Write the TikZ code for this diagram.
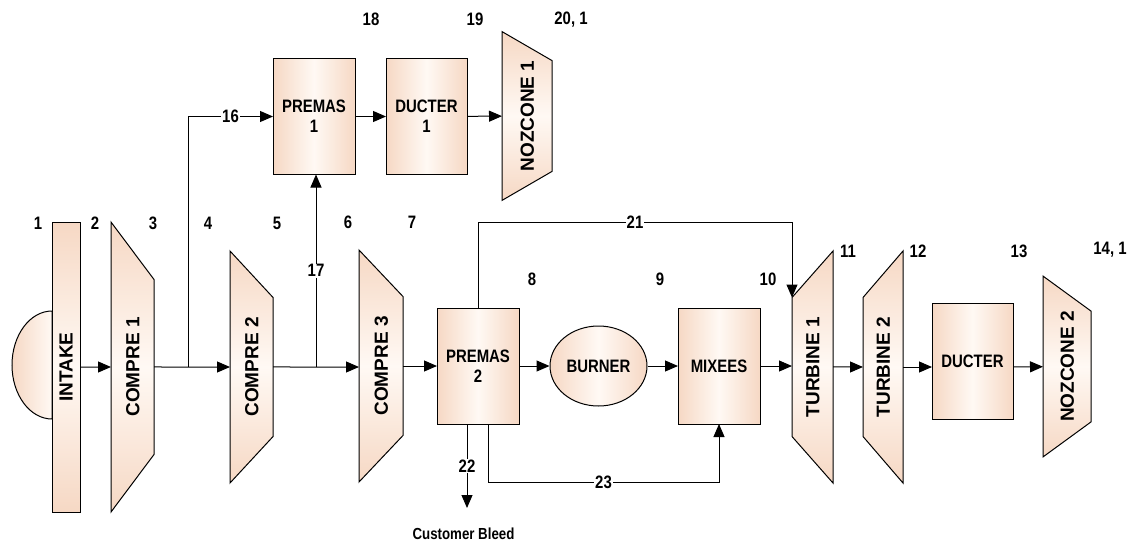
\documentclass[tikz,border=0pt]{standalone}
\usepackage{fontspec}
\setmainfont{Liberation Sans}
\newfontfamily\narrowsans[FakeStretch=0.83]{Liberation Sans}
\usepackage{xcolor}
\usetikzlibrary{arrows.meta, positioning, shapes.geometric, calc}

\definecolor{peach}{RGB}{246,216,196}
\definecolor{peachlight}{RGB}{255,249,244}
\newcommand{\labfont}{\narrowsans\bfseries\fontsize{18}{20}\selectfont}
\newcommand{\bleedfont}{\narrowsans\bfseries\fontsize{16}{18}\selectfont}
\newcommand{\unitfont}{\bfseries\fontsize{19}{21}\selectfont}

\begin{document}
\begin{tikzpicture}[x=1pt, y=-1pt, line width=1pt,
    block/.style={rectangle, draw, left color=peach, right color=peach, middle color=peachlight, inner sep=0pt, outer sep=0pt, minimum width=82pt, minimum height=116pt, align=center, font=\labfont},
    machine/.style={trapezium, trapezium stretches body=true, draw, rotate=90, top color=peach, bottom color=peach, middle color=peachlight, text height=13.6pt, text depth=0pt, inner xsep=0pt, inner ysep=#1, outer sep=0pt, font=\unitfont},
    flow/.style={-{Triangle[length=13pt, width=11pt]}},
    num/.style={font=\labfont},
    tag/.style={font=\labfont, fill=white, inner sep=1pt}]
    \useasboundingbox (0,0) rectangle (1132,544);

    % bypass branch
    \node[block] (premas1) at (314,116.5) {PREMAS\\1};
    \node[block, minimum width=81pt, right=31pt of premas1] (ducter1) {DUCTER\\1};
    \node[machine=18.2pt, minimum width=166pt, trapezium angle=120.1] (nozcone1) at (527,116) {NOZCONE 1};

    % core line
    \draw[left color=peach, right color=peachlight] (52,311) arc[start angle=90, end angle=270, x radius=40pt, y radius=54pt] -- cycle;
    \node[draw, rotate=90, minimum width=290pt, minimum height=28pt, inner sep=0pt, outer sep=0pt, top color=peach, bottom color=peach, middle color=peachlight, font=\unitfont] (intake) at (66,367) {INTAKE};
    \node[machine=14.7pt, minimum width=290pt, trapezium angle=143.2] (compre1) at (132.5,367) {COMPRE 1};
    \node[machine=14.7pt, minimum width=232pt, trapezium angle=137.2] (compre2) at (251.5,367) {COMPRE 2};
    \node[machine=15.2pt, minimum width=232pt, trapezium angle=136.6] (compre3) at (381,366) {COMPRE 3};
    \node[block] (premas2) at (478,366) {PREMAS\\2};
    \node[ellipse, draw, minimum width=97pt, minimum height=80pt, inner sep=0pt, left color=peach, right color=peach, middle color=peachlight, font=\labfont] (burner) at (598.5,366) {BURNER};
    \node[block] (mixees) at (719,366) {MIXEES};
    \node[machine=13.7pt, minimum width=232pt, trapezium angle=41.4] (turbine1) at (812.5,367) {TURBINE 1};
    \node[machine=13.2pt, minimum width=232pt, trapezium angle=40.7] (turbine2) at (883,367) {TURBINE 2};
    \node[block, minimum width=81pt] (ducter) at (972.5,361) {DUCTER};
    \node[machine=17.2pt, minimum width=173pt, trapezium angle=126.1] (nozcone2) at (1067,366.5) {NOZCONE 2};
    \node[font=\bleedfont, inner sep=0pt] (bleed) at (463.5,534) {Customer Bleed};

    \coordinate (split1) at (188,367);
    \coordinate (split2) at (316,367);
    \coordinate (bleedtip) at (467,508);

    % station numbers
    \foreach [count=\i] \t/\x/\y in {1/38/223, 2/95/223, 3/153/223, 4/208/223, 5/277/223, 6/348/222, 7/412/222, 8/532/279, 9/660/279, 10/768/279, 11/848/251, 12/918/251, 13/1019/251, {14, 1}/1110/250, 18/371/19, 19/475/19, {20, 1}/571/20}
        \node[num] (station\i) at (\x,\y) {\t};

    \draw[flow] (intake) -- (compre1);
    \draw[flow] (compre1) -- (compre2);
    \draw[flow] (split1) |- node[tag, pos=0.75] {16} (premas1);
    \draw[flow] (compre2) -- (compre2 -| compre3.north);
    \draw[flow] (split2) -- node[tag] {17} (split2 |- premas1.south);
    \draw[flow] (premas1) -- (ducter1);
    \draw[flow] (ducter1) -- (nozcone1);
    \draw[flow] (compre3) -- (premas2);
    \draw[flow] (premas2) -- (burner);
    \draw[flow] (burner) -- (mixees);
    \draw[flow] (mixees) -- (mixees -| turbine1.north);
    \draw[flow] (turbine1) -- (turbine2);
    \draw[flow] (turbine2) -- (turbine2 -| ducter.west);
    \draw[flow] (ducter.east |- turbine2) -- (nozcone2);
    \draw[flow] (premas2.north) -- ++(0,-86) -| node[tag, pos=0.25] {21} (turbine1.top right corner);
    \draw[flow] (bleedtip |- premas2.south) -- node[tag] {22} (bleedtip);
    \draw[flow] ([xshift=10pt]premas2.south) -- ++(0,58) -| node[tag, pos=0.25] {23} (mixees.south);
\end{tikzpicture}
\end{document}
